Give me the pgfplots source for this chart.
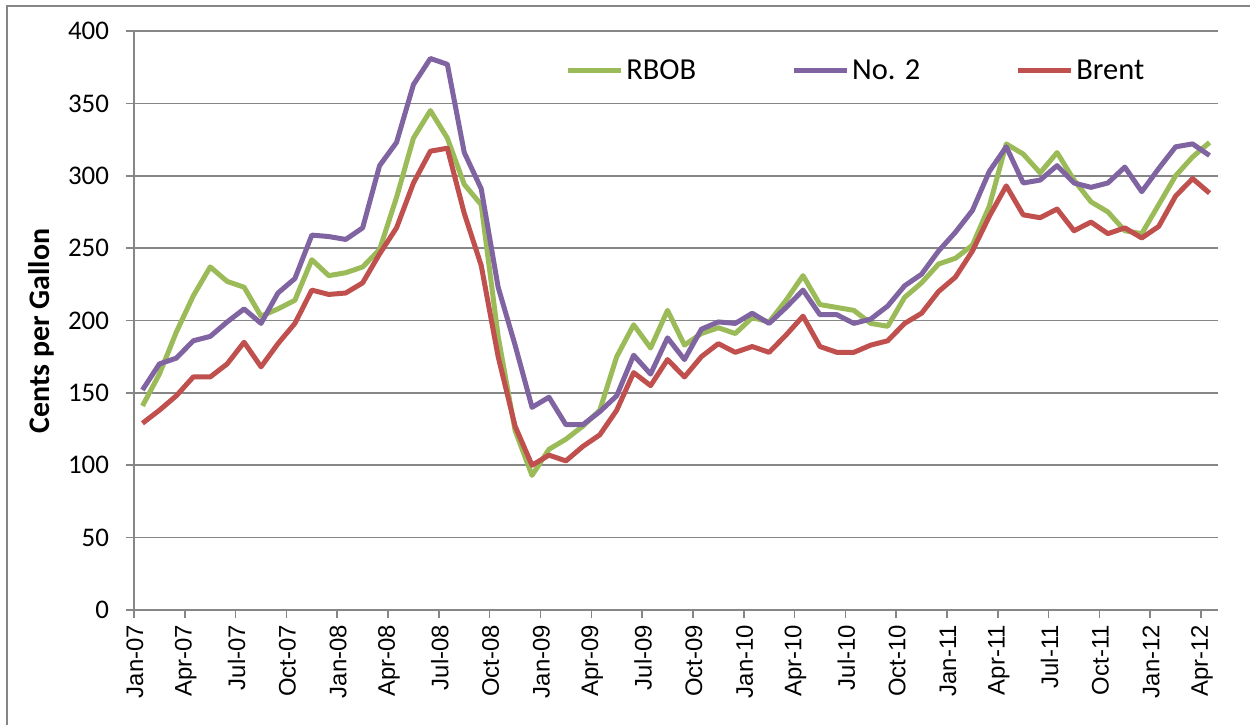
\documentclass[border=0pt]{standalone}
\usepackage{fontspec}
\setmainfont{Carlito}
\newfontfamily\xfont{Liberation Sans}
\usepackage{pgfplots}
\usepackage{pgfplotstable}
\pgfplotsset{compat=1.18}
\definecolor{rbob}{HTML}{9BBB59}
\definecolor{notwo}{HTML}{8064A2}
\definecolor{brent}{HTML}{C0504D}
\definecolor{gridc}{HTML}{868686}

\pgfplotstableread{
x rbob no2 brent
0.5 141 152 129
1.5 163 170 138
2.5 192 174 148
3.5 217 186 161
4.5 237 189 161
5.5 227 199 170
6.5 223 208 185
7.5 203 198 168
8.5 208 219 184
9.5 214 229 198
10.5 242 259 221
11.5 231 258 218
12.5 233 256 219
13.5 237 264 226
14.5 249 307 246
15.5 285 323 264
16.5 326 363 295
17.5 345 381 317
18.5 326 377 319
19.5 294 316 274
20.5 280 291 238
21.5 189 223 175
22.5 124 183 127
23.5 93 140 100
24.5 111 147 107
25.5 118 128 103
26.5 127 128 113
27.5 138 137 121
28.5 175 148 138
29.5 197 176 164
30.5 181 163 155
31.5 207 188 173
32.5 183 173 161
33.5 191 194 175
34.5 195 199 184
35.5 191 198 178
36.5 202 205 182
37.5 199 198 178
38.5 214 209 190
39.5 231 221 203
40.5 211 204 182
41.5 209 204 178
42.5 207 198 178
43.5 198 201 183
44.5 196 210 186
45.5 216 224 198
46.5 226 232 205
47.5 239 248 220
48.5 243 261 230
49.5 252 276 248
50.5 279 303 272
51.5 322 320 293
52.5 315 295 273
53.5 302 297 271
54.5 316 307 277
55.5 297 295 262
56.5 282 292 268
57.5 275 295 260
58.5 262 306 264
59.5 260 289 257
60.5 280 305 265
61.5 300 320 286
62.5 313 322 298
63.5 323 314 288
}\datatable

\begin{document}
\begin{tikzpicture}
\begin{axis}[
  name=ax,
  scale only axis,
  width=542bp, height=289.5bp,
  xmin=0, xmax=64, ymin=0, ymax=400,
  axis x line=bottom, axis y line=left,
  axis line style={gridc, line width=0.8bp, -},
  xtick={0,3,...,63},
  xticklabels={Jan-07,Apr-07,Jul-07,Oct-07,Jan-08,Apr-08,Jul-08,Oct-08,Jan-09,Apr-09,Jul-09,Oct-09,Jan-10,Apr-10,Jul-10,Oct-10,Jan-11,Apr-11,Jul-11,Oct-11,Jan-12,Apr-12},
  ytick={0,50,...,400},
  ymajorgrids,
  grid style={gridc, line width=0.8bp},
  tick align=outside,
  major tick length=4bp,
  tick style={gridc, line width=0.8bp},
  /pgf/number format/assume math mode=true,
  yticklabel style={font=\fontsize{13.5}{16}\selectfont, anchor=east, xshift=-5bp},
  xticklabel style={font=\xfont\fontsize{12}{14}\selectfont, rotate=90, anchor=east, yshift=-0.5bp},
  ylabel={Cents per Gallon},
  ylabel style={font=\bfseries\fontsize{15}{18}\selectfont, at={(axis description cs:-0.0858,0.482)}, anchor=center, rotate=0},
  legend columns=3,
  legend cell align=left,
  legend style={at={(axis description cs:0.3975,0.931)}, anchor=west, draw=none, fill=none, inner sep=0pt,
    font=\fontsize{15.3}{18}\selectfont, nodes={inner sep=1.5bp},
    /tikz/every even column/.append style={column sep=46bp}},
  legend image code/.code={\draw[#1] (0bp,0bp) -- (26.5bp,0bp);},
  every axis plot/.append style={line width=2.5bp, line join=round},
]
\addplot[rbob] table[x=x, y=rbob] {\datatable};
\addlegendentry{RBOB}
\addplot[notwo] table[x=x, y=no2] {\datatable};
\addlegendentry{No. 2}
\addplot[brent] table[x=x, y=brent] {\datatable};
\addlegendentry{Brent}
\end{axis}
\draw[gridc, line width=0.8bp] ([shift={(-63.5bp,-70bp)}]ax.south west) rectangle ([shift={(570bp,302bp)}]ax.south west);
\pgfresetboundingbox
\path[use as bounding box] ([shift={(-67bp,-57.5bp)}]ax.south west) rectangle ([shift={(558bp,305bp)}]ax.south west);
\end{tikzpicture}
\end{document}
